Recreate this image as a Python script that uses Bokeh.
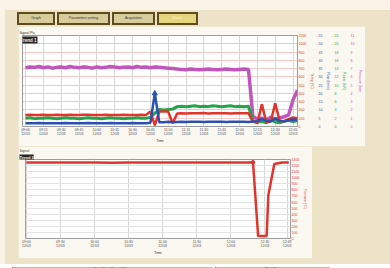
from bokeh.plotting import figure
from bokeh.models import Range1d, LinearAxis, FixedTicker, Title, Div, Spacer, Label
from bokeh.layouts import column, row
from bokeh.embed import file_html
from bokeh.resources import INLINE

# ---------------- data ----------------
# upper chart: time in quarter-hour steps
t1 = [0.0, 0.25, 0.5, 0.75, 1.0, 1.25, 1.5, 1.75, 2.0, 2.25, 2.5, 2.75, 3.0, 3.25, 3.5, 3.75,
      4.0, 4.25, 4.5, 4.75, 5.0, 5.25, 5.5, 5.75, 6.0, 6.25, 6.5, 6.75, 7.0, 7.25, 7.5, 7.75,
      8.0, 8.25, 8.5, 8.75, 9.0, 9.25, 9.5, 9.75, 10.0, 10.25, 10.5, 10.75, 11.0, 11.25, 11.5,
      11.75, 12.0, 12.25, 12.5, 12.75, 13.0, 13.25, 13.5, 13.75, 14.0, 14.25, 14.5, 14.75,
      15.0, 15.25]
temp_c = [140, 141, 139, 140, 142, 140, 139, 141, 140, 140, 141, 139, 140, 142, 141, 140,
          139, 140, 141, 140, 139, 140, 141, 140, 140, 139, 141, 140,
          180, 15, 180, 182, 180, 40, 158,
          160, 158, 161, 159, 160, 162, 158, 160, 161, 159, 160, 158, 161, 160, 159, 160,
          60, 40, 270, 50, 60, 280, 70, 60, 90, 110, 100]
flow = [2.0, 1.9, 2.0, 2.1, 2.0, 2.0, 1.9, 2.0, 2.0, 2.1, 2.0, 1.9, 2.0, 2.0, 2.1, 2.0,
        1.9, 2.0, 2.0, 2.1, 2.0, 2.0, 1.9, 2.0, 2.1, 2.0, 2.0, 2.0,
        2.2, 20.0, 2.6, 2.5, 2.8, 2.6, 2.7,
        2.8, 2.7, 2.9, 2.8, 2.8, 2.7, 2.9, 2.8, 2.8, 2.9, 2.7, 2.8, 2.8, 2.9, 2.8, 2.7,
        3.0, 3.2, 4.5, 3.5, 3.0, 4.8, 3.4, 3.2, 3.8, 4.2, 4.0]
power = [2.0, 2.1, 1.9, 2.0, 2.0, 2.1, 2.0, 1.9, 2.0, 2.1, 2.0, 2.0, 1.9, 2.0, 2.1, 2.0,
         2.0, 1.9, 2.0, 2.1, 2.0, 2.0, 1.9, 2.0, 2.0, 2.1, 2.0, 2.0,
         2.2, 3.2, 4.1, 4.0, 4.1, 4.2, 4.8,
         4.9, 4.8, 4.9, 5.0, 4.8, 4.9, 4.8, 5.0, 4.9, 4.8, 4.9, 5.0, 4.8, 4.9, 4.8, 4.9,
         1.4, 1.0, 1.2, 0.9, 1.6, 1.1, 0.9, 1.3, 1.5, 1.2, 1.4]
pressure = [7.1, 7.2, 7.15, 7.25, 7.1, 7.2, 7.05, 7.15, 7.2, 7.1, 7.25, 7.15, 7.1, 7.2, 7.15,
            7.05, 7.2, 7.1, 7.15, 7.25, 7.2, 7.1, 7.15, 7.2, 7.1, 7.25, 7.15, 7.2, 7.1, 7.2,
            7.15, 7.1, 7.05, 7.0,
            6.95, 6.9, 6.85, 6.95, 6.9, 6.85, 6.9, 6.95, 6.9, 6.85, 6.9, 6.95, 6.9, 6.85,
            6.9, 6.95, 6.9,
            1.2, 0.9, 1.0, 0.8, 1.1, 0.9, 1.0, 1.2, 1.4, 3.2, 4.4]
event_t = [7.25]
event_flow = [20.0]

x1_ticks = [0, 1, 2, 3, 4, 5, 6, 7, 8, 9, 10, 11, 12, 13, 14, 15]
x1_labels = ["09:00\n12/03", "09:15\n12/03", "09:30\n12/03", "09:45\n12/03",
             "10:00\n12/03", "10:15\n12/03", "10:30\n12/03", "10:45\n12/03",
             "11:00\n12/03", "11:15\n12/03", "11:30\n12/03", "11:45\n12/03",
             "12:00\n12/03", "12:15\n12/03", "12:30\n12/03", "12:45\n12/03"]
temp_ticks = [0, 100, 200, 300, 400, 500, 600, 700, 800, 900, 1000, 1100]
flow_ticks = [0, 5, 10, 15, 20, 25, 30, 35, 40, 45, 50, 55]
power_ticks = [0, 2, 4, 6, 8, 10, 12, 14, 16, 18, 20, 22]
pressure_ticks = [0, 1, 2, 3, 4, 5, 6, 7, 8, 9, 10, 11]

# lower chart
t2 = [0, 1, 2, 3, 4, 5, 6, 7, 8, 9, 10, 11, 12, 13, 13.3, 13.6, 14.1, 14.2, 14.55, 15.0, 15.4]
furnace = [1250, 1252, 1249, 1251, 1250, 1248, 1250, 1251, 1249, 1250, 1252, 1250, 1249, 1250,
           1255, 40, 40, 710, 1225, 1250, 1250]
mark_t2 = [13.3]
mark_v2 = [1255]
x2_ticks = [0, 2, 4, 6, 8, 10, 12, 14, 15.3]
x2_labels = ["09:00\n12/03", "09:30\n12/03", "10:00\n12/03", "10:30\n12/03", "11:00\n12/03",
             "11:30\n12/03", "12:00\n12/03", "12:30\n12/03", "12:49\n12/03"]
furnace_ticks = [0, 100, 200, 300, 400, 500, 600, 700, 800, 900, 1000, 1100, 1200, 1300]

# ---------------- styles ----------------
PEACH = "#fcf3e8"
BG = "#ece3c8"
PANEL = "#faf8f1"
RED = "#e3342b"
BLUE = "#2b50b0"
GREEN = "#20a548"
MAG = "#c255bb"
FONT = "Liberation Sans"
TICK_FS = "3.5px"
LAB_FS = "3.5px"


def style_axis(ax, color, ticks, label):
    ax.ticker = FixedTicker(ticks=ticks)
    ax.axis_label = label
    ax.axis_line_color = None
    ax.major_tick_line_color = None
    ax.minor_tick_line_color = None
    ax.major_tick_out = 0
    ax.major_tick_in = 0
    ax.minor_tick_out = 0
    ax.major_label_text_font_size = TICK_FS
    ax.major_label_text_color = color
    ax.major_label_text_font = FONT
    ax.axis_label_text_font_size = LAB_FS
    ax.axis_label_text_color = color
    ax.axis_label_text_font = FONT
    ax.axis_label_text_font_style = "normal"
    ax.major_label_standoff = 1
    ax.axis_label_standoff = 1


def style_xaxis(ax, ticks, labels):
    ax.ticker = FixedTicker(ticks=ticks)
    ax.major_label_overrides = {k: v for k, v in zip(ticks, labels)}
    ax.axis_label = "Time"
    ax.axis_line_color = None
    ax.major_tick_line_color = None
    ax.minor_tick_line_color = None
    ax.major_tick_out = 0
    ax.major_tick_in = 0
    ax.minor_tick_out = 0
    ax.major_label_text_font_size = TICK_FS
    ax.major_label_text_color = "#4a5060"
    ax.major_label_text_font = FONT
    ax.axis_label_text_font_size = "3.5px"
    ax.axis_label_text_color = "#333333"
    ax.axis_label_text_font = FONT
    ax.axis_label_text_font_style = "normal"
    ax.major_label_standoff = 1
    ax.axis_label_standoff = 0


# ---------------- upper chart ----------------
p1 = figure(width=347, height=120, x_range=Range1d(-0.17, 15.25), y_range=Range1d(0, 1100),
            y_axis_location="right", output_backend="svg", toolbar_location=None,
            min_border_left=4, min_border_right=67, min_border_top=9, min_border_bottom=19,
            background_fill_color="white", border_fill_color=PANEL,
            outline_line_color="#9c9c9c")
p1.extra_y_ranges = {"flow": Range1d(0, 55), "power": Range1d(0, 22), "pressure": Range1d(0, 11)}
style_axis(p1.yaxis[0], RED, temp_ticks, "Temp (°C)")
ax_flow = LinearAxis(y_range_name="flow")
style_axis(ax_flow, BLUE, flow_ticks, "Flow (l/min)")
ax_power = LinearAxis(y_range_name="power")
style_axis(ax_power, GREEN, power_ticks, "Power (kW)")
ax_press = LinearAxis(y_range_name="pressure")
style_axis(ax_press, MAG, pressure_ticks, "Pressure (bar)")
p1.add_layout(ax_flow, "right")
p1.add_layout(ax_power, "right")
p1.add_layout(ax_press, "right")
style_xaxis(p1.xaxis[0], x1_ticks, x1_labels)
p1.ygrid.grid_line_color = "#f2c8c8"
p1.xgrid.grid_line_color = "#d8d8d8"

p1.line(t1, pressure, y_range_name="pressure", color=MAG, line_width=3.5)
p1.line(t1, power, y_range_name="power", color=GREEN, line_width=3)
p1.line(t1, temp_c, color=RED, line_width=2.5)
p1.line(t1, flow, y_range_name="flow", color=BLUE, line_width=2.5)
p1.scatter(event_t, event_flow, y_range_name="flow", marker="triangle", size=5,
           color=BLUE)

p1.add_layout(Label(x=-0.17, y=1100, text="Trend 1", text_font_size="4.5px",
                    text_color="#f4f4f4", text_font=FONT, text_font_style="bold",
                    text_align="left", text_baseline="top", x_offset=-3, y_offset=-1,
                    background_fill_color="#262626", padding=1))
p1.add_layout(Title(text="Signal Po", text_font_size="3.5px", text_color="#333333",
                    text_font=FONT, text_font_style="normal", standoff=1, offset=-3), "above")

# ---------------- lower chart ----------------
p2 = figure(width=294, height=112, x_range=Range1d(-0.05, 15.5), y_range=Range1d(0, 1300),
            y_axis_location="right", output_backend="svg", toolbar_location=None,
            min_border_left=7, min_border_right=22, min_border_top=10, min_border_bottom=15,
            background_fill_color="white", border_fill_color=PANEL,
            outline_line_color="#9c9c9c")
style_axis(p2.yaxis[0], RED, furnace_ticks, "Furnace (°C)")
style_xaxis(p2.xaxis[0], x2_ticks, x2_labels)
p2.ygrid.grid_line_color = "#e4e4e4"
p2.xgrid.grid_line_color = "#d8d8d8"
p2.line(t2, furnace, color=RED, line_width=2.5)
p2.scatter(mark_t2, mark_v2, size=3.5, color=RED)
p2.add_layout(Title(text="Trend 2", text_font_size="4px", text_color="#f4f4f4",
                    background_fill_color="#262626", text_font=FONT, text_font_style="bold",
                    standoff=0, offset=-6), "above")
p2.add_layout(Title(text="Signal", text_font_size="3.5px", text_color="#333333",
                    text_font=FONT, text_font_style="normal", standoff=0, offset=-6), "above")

# ---------------- frame (tabs / footer) ----------------
def tab(label, w, bgc, fg):
    return ('<span style="display:inline-block;box-sizing:border-box;width:%dpx;height:13px;'
            'border:2px solid #5e4c1c;background:%s;color:%s;text-align:center;'
            'font-size:3.5px;line-height:9px;margin-right:2px;vertical-align:top;">%s</span>'
            % (w, bgc, fg, label))

tabs_html = ('<div style="padding:2px 0 0 12px;font-family:\'Liberation Sans\';'
             'white-space:nowrap;">'
             + tab("Graph", 38, "#d8cb9c", "#333")
             + tab("Parameters setting", 53, "#d8cb9c", "#333")
             + tab("Acquisition", 43, "#d8cb9c", "#333")
             + tab("Export", 41, "#e6d47e", "#f5efd5")
             + '</div>')
tabs = Div(text=tabs_html, width=385, height=16, margin=0)

strip = Div(text="", width=390, height=10, margin=0)

footer_html = ('<div style="padding:1px 0 0 7px;font-family:\'Liberation Sans\';'
               'white-space:nowrap;font-size:3px;line-height:4px;color:#4a3d18;'
               'height:5px;">'
               '<span style="display:inline-block;vertical-align:top;width:200px;height:4px;'
               'background:#cbb87e;border-left:1px solid #8a7640;text-align:center;">'
               'Start  |  Stop  |  Record  |  Reset</span>'
               '<span style="display:inline-block;vertical-align:top;width:3px;height:4px;"></span>'
               '<span style="display:inline-block;vertical-align:top;width:115px;height:4px;'
               'background:#cbb87e;border-left:1px solid #8a7640;text-align:center;">'
               'Print  |  Save</span>'
               '</div>')
footer = Div(text=footer_html, width=385, height=6, margin=0)

inner = column(
    tabs,
    row(Spacer(width=13, height=120), p1, Spacer(width=25, height=120)),
    row(Spacer(width=13, height=112), p2, Spacer(width=78, height=112)),
    footer,
    styles={"background-color": BG},
    width=385,
)

layout = column(
    strip,
    row(Spacer(width=5, height=254), inner),
    styles={"background-color": PEACH},
    width=390,
)

open("out.html", "w").write(file_html(layout, INLINE))
